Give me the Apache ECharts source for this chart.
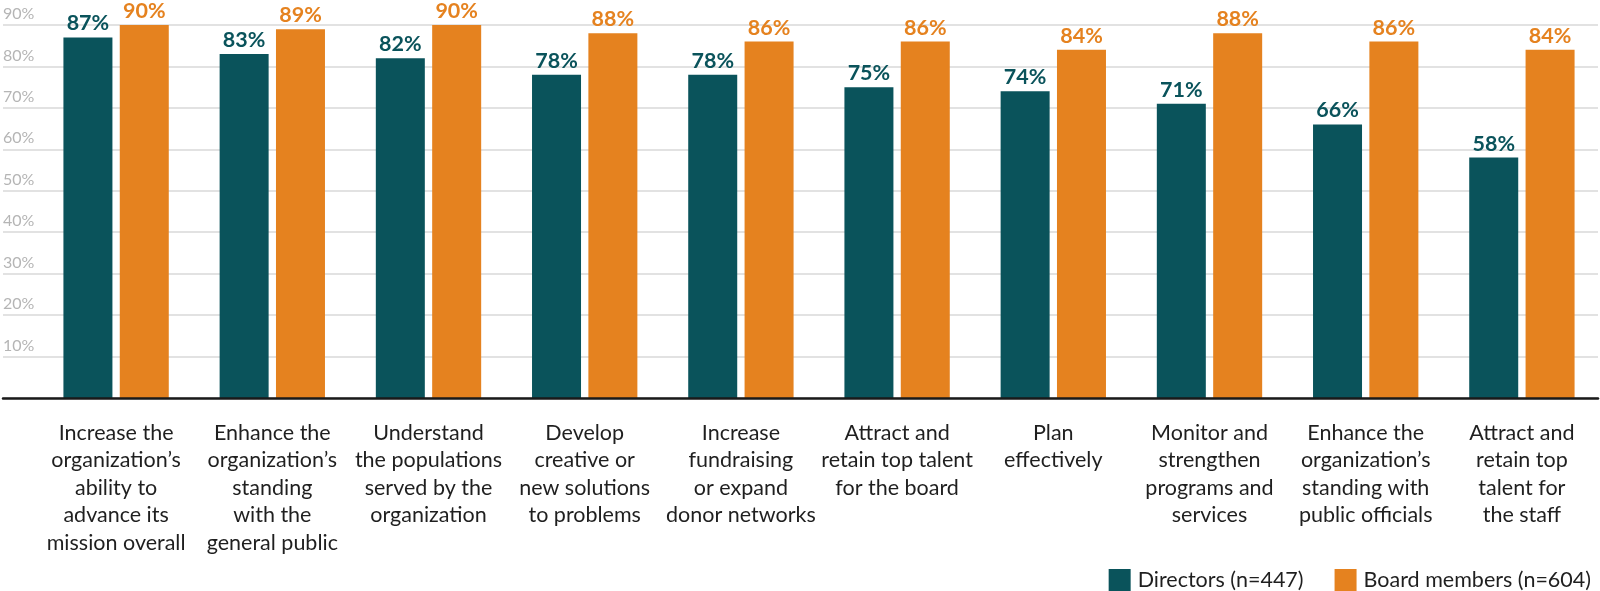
<!DOCTYPE html>
<html>
<head>
<meta charset="utf-8">
<title>Board impact: directors vs. board members</title>
<script src="https://cdn.jsdelivr.net/npm/echarts@6/dist/echarts.min.js"></script>
<style>
  html, body { margin: 0; padding: 0; background: #ffffff; }
  #chart { width: 1600px; height: 591px; }
</style>
</head>
<body>
<div id="chart"></div>
<script>
// Categories (multi-line labels under each bar pair)
const categories = [
  'Increase the\norganization\u2019s\nability to\nadvance its\nmission overall',
  'Enhance the\norganization\u2019s\nstanding\nwith the\ngeneral public',
  'Understand\nthe populations\nserved by the\norganization',
  'Develop\ncreative or\nnew solutions\nto problems',
  'Increase\nfundraising\nor expand\ndonor networks',
  'Attract and\nretain top talent\nfor the board',
  'Plan\neffectively',
  'Monitor and\nstrengthen\nprograms and\nservices',
  'Enhance the\norganization\u2019s\nstanding with\npublic officials',
  'Attract and\nretain top\ntalent for\nthe staff'
];

// Percent of respondents, per group
const directors = [87, 83, 82, 78, 78, 75, 74, 71, 66, 58];
const boardMembers = [90, 89, 90, 88, 86, 86, 84, 88, 86, 84];

// Series names shown in the legend
const seriesNames = ['Directors (n=447)', 'Board members (n=604)'];

// Y axis range and step
const yMin = 0;
const yMax = 90;
const yStep = 10;

const TEAL = '#0a535b';
const ORANGE = '#e5821f';
const FONT = 'Lato, "Open Sans", sans-serif';

const chart = echarts.init(document.getElementById('chart'), null, { renderer: 'canvas' });

const barLabel = (color) => ({
  show: true,
  position: 'top',
  distance: 3,
  formatter: '{c}%',
  color: color,
  fontFamily: FONT,
  fontWeight: 'bold',
  fontSize: 21.5
});

chart.setOption({
  animation: false,
  backgroundColor: '#ffffff',
  grid: [
    // bars and category labels
    { left: 38, top: 25, width: 1581, bottom: 193, containLabel: false },
    // gridlines, percent labels and baseline across the full width
    { left: 3, right: 2, top: 25, bottom: 193, containLabel: false }
  ],
  legend: {
    data: seriesNames,
    right: 4,
    top: 564,
    icon: 'rect',
    itemWidth: 22,
    itemHeight: 23,
    itemGap: 31,
    textStyle: { fontFamily: FONT, fontSize: 21.5, color: '#1f1f1f', padding: [0, 0, 0, 2] }
  },
  xAxis: [
    {
      type: 'category',
      gridIndex: 0,
      data: categories,
      axisLine: { show: false },
      axisTick: { show: false },
      axisLabel: {
        interval: 0,
        margin: 21,
        fontFamily: FONT,
        fontSize: 21.5,
        lineHeight: 27.5,
        color: '#1f1f1f',
        align: 'center'
      },
      splitLine: { show: false },
      z: 5
    },
    {
      type: 'value',
      gridIndex: 1,
      min: 0,
      max: 1,
      axisLine: { show: true, onZero: false, lineStyle: { color: '#1a1a1a', width: 2.5 } },
      axisTick: { show: false },
      axisLabel: { show: false },
      splitLine: { show: false },
      z: 6
    }
  ],
  yAxis: [
    {
      type: 'value',
      gridIndex: 0,
      min: yMin,
      max: yMax,
      interval: yStep,
      show: false
    },
    {
      type: 'value',
      gridIndex: 1,
      min: yMin,
      max: yMax,
      interval: yStep,
      axisLine: { show: false },
      axisTick: { show: false },
      splitLine: { show: true, lineStyle: { color: '#d8d8d8', width: 1.5 } },
      axisLabel: {
        inside: true,
        margin: 0,
        align: 'left',
        verticalAlign: 'bottom',
        padding: [0, 0, 3, 0],
        fontFamily: FONT,
        fontSize: 16,
        color: '#b5b5b5',
        formatter: (v) => (v === 0 ? '' : v + '%')
      },
      z: 0
    }
  ],
  series: [
    {
      name: seriesNames[0],
      type: 'bar',
      xAxisIndex: 0,
      yAxisIndex: 0,
      data: directors,
      barWidth: 49,
      barGap: '15%',
      itemStyle: { color: TEAL },
      label: barLabel(TEAL),
      z: 3
    },
    {
      name: seriesNames[1],
      type: 'bar',
      xAxisIndex: 0,
      yAxisIndex: 0,
      data: boardMembers,
      barWidth: 49,
      barGap: '15%',
      itemStyle: { color: ORANGE },
      label: barLabel(ORANGE),
      z: 3
    }
  ]
});
</script>
</body>
</html>
